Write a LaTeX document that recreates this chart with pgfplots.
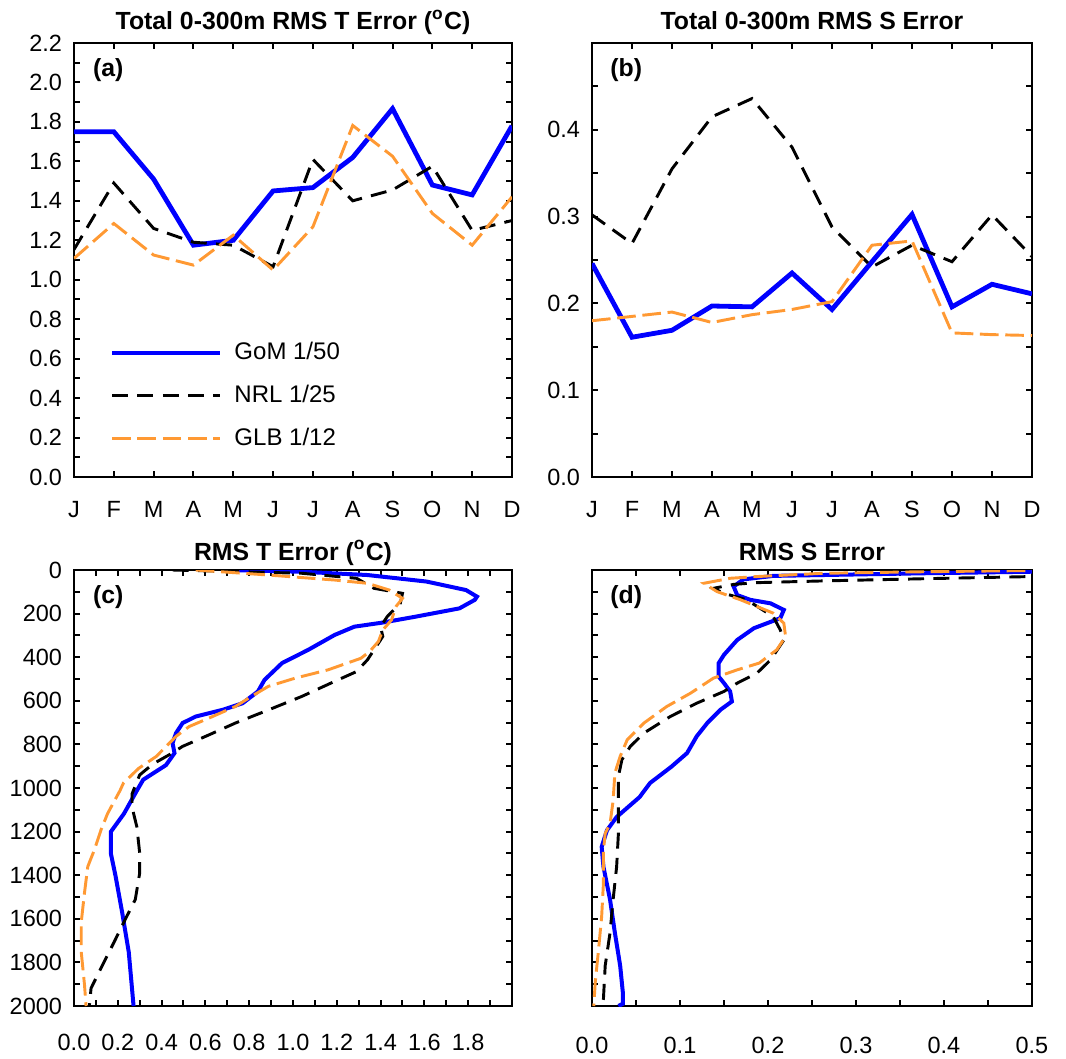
\documentclass[border=0pt]{standalone}
\usepackage{fontspec}
\setmainfont{Liberation Sans}
\usepackage{pgfplots}
\pgfplotsset{compat=1.18}
\definecolor{glborange}{RGB}{255,153,51}
\pgfplotsset{
  panel/.style={
    scale only axis, anchor=north west, clip=true,
    axis line style={line width=0.75pt},
    tick style={black, line width=0.75pt},
    tick align=inside, tick pos=both,
    major tick length=2.2pt, minor tick length=2.2pt,
    tick label style={font=\fontsize{8.8}{10}\selectfont},
    /pgf/number format/assume math mode=true,
    /pgf/number format/1000 sep={},
    scaled ticks=false,
    title style={font=\bfseries\fontsize{9.3}{11}\selectfont, at={(0.5,1)}, anchor=base},
    xticklabel style={yshift=-5.5pt},
    yticklabel style={xshift=-1pt},
  },
  gom/.style={blue, line width=1.8pt},
  nrl/.style={black, line width=1.1pt, dash pattern=on 6pt off 3.5pt},
  glb/.style={glborange, line width=1.1pt, dash pattern=on 7pt off 2.5pt},
  gomp/.style={blue, line width=1.5pt},
  onedec/.style={/pgf/number format/fixed, /pgf/number format/fixed zerofill, /pgf/number format/precision=1},
}
\newcommand{\lab}[1]{\node[font=\bfseries\fontsize{9.3}{11}\selectfont] at (rel axis cs:0.078,0.937) {(#1)};}
\begin{document}
\begin{tikzpicture}
\path[use as bounding box] (0,0) rectangle (399.75pt,-397.125pt);

% (a) monthly 0-300 m T error
\begin{axis}[panel, at={(27.75pt,-16.125pt)}, width=164.25pt, height=162.75pt,
  xmin=1, xmax=12, ymin=0, ymax=2.2,
  xtick={1,2,3,4,5,6,7,8,9,10,11,12}, xticklabels={J,F,M,A,M,J,J,A,S,O,N,D},
  ytick={0,0.2,0.4,0.6,0.8,1.0,1.2,1.4,1.6,1.8,2.0,2.2},
  minor ytick={0.1,0.3,0.5,0.7,0.9,1.1,1.3,1.5,1.7,1.9,2.1},
  yticklabel style={onedec},
  title={Total 0-300m RMS T Error (\textsuperscript{o}C)}, title style={yshift=-0.9pt},
  legend style={at={(0.062,0.336)}, anchor=north west, draw=none, fill=none,
    font=\fontsize{9}{10}\selectfont, row sep=4pt},
  legend cell align=left,
  legend image code/.code={\draw[#1] (0pt,0pt) -- (40.5pt,0pt); \path (43pt,0pt);},
]
\addplot[gom] coordinates {(1,1.75) (2,1.75) (3,1.51) (4,1.175) (5,1.2) (6,1.45) (7,1.467) (8,1.62) (9,1.867) (10,1.48) (11,1.43) (12,1.78)};
\addlegendentry{GoM 1/50}
\addplot[nrl] coordinates {(1,1.153) (2,1.49) (3,1.26) (4,1.19) (5,1.175) (6,1.066) (7,1.61) (8,1.40) (9,1.455) (10,1.575) (11,1.25) (12,1.30)};
\addlegendentry{NRL 1/25}
\addplot[glb] coordinates {(1,1.108) (2,1.285) (3,1.125) (4,1.074) (5,1.226) (6,1.049) (7,1.268) (8,1.782) (9,1.626) (10,1.336) (11,1.175) (12,1.42)};
\addlegendentry{GLB 1/12}
\lab{a}
\end{axis}

% (b) monthly 0-300 m S error
\begin{axis}[panel, at={(222pt,-16.125pt)}, width=165pt, height=162.75pt,
  xmin=1, xmax=12, ymin=0, ymax=0.5,
  xtick={1,2,3,4,5,6,7,8,9,10,11,12}, xticklabels={J,F,M,A,M,J,J,A,S,O,N,D},
  ytick={0,0.1,0.2,0.3,0.4}, minor ytick={0.05,0.15,0.25,0.35,0.45},
  yticklabel style={onedec},
  title={Total 0-300m RMS S Error}, title style={yshift=-0.9pt},
]
\addplot[gom] coordinates {(1,0.246) (2,0.161) (3,0.169) (4,0.197) (5,0.196) (6,0.235) (7,0.193) (8,0.248) (9,0.3025) (10,0.196) (11,0.222) (12,0.211)};
\addplot[nrl] coordinates {(1,0.302) (2,0.269) (3,0.355) (4,0.415) (5,0.436) (6,0.38) (7,0.288) (8,0.242) (9,0.267) (10,0.248) (11,0.302) (12,0.254)};
\addplot[glb] coordinates {(1,0.180) (2,0.185) (3,0.19) (4,0.178) (5,0.187) (6,0.193) (7,0.202) (8,0.267) (9,0.272) (10,0.166) (11,0.164) (12,0.163)};
\lab{b}
\end{axis}

% (c) T error profile
\begin{axis}[panel, at={(27.75pt,-213.75pt)}, width=164.25pt, height=163.5pt,
  xmin=0, xmax=2, ymin=0, ymax=2000, y dir=reverse,
  xtick={0,0.2,0.4,0.6,0.8,1.0,1.2,1.4,1.6,1.8},
  minor xtick={0.1,0.3,0.5,0.7,0.9,1.1,1.3,1.5,1.7,1.9},
  ytick={0,200,400,600,800,1000,1200,1400,1600,1800,2000},
  minor ytick={100,300,500,700,900,1100,1300,1500,1700,1900},
  xticklabel style={onedec, yshift=-1.5pt},
  title={RMS T Error (\textsuperscript{o}C)}, title style={yshift=-2.25pt},
]
\addplot[gomp] table {
0.707 0
1.04 8
1.34 23
1.61 53
1.79 92
1.84 122
1.83 137
1.76 176
1.56 214
1.41 241
1.28 260
1.19 298
1.07 366
0.95 427
0.87 504
0.84 557
0.77 611
0.68 641
0.556 672
0.496 702
0.466 748
0.45 794
0.459 840
0.42 895
0.316 962
0.287 1012
0.228 1118
0.168 1201
0.168 1299
0.19 1405
0.22 1571
0.25 1752
0.272 2000
};
\addplot[nrl] table {
0.45 0
1.04 15
1.29 38
1.37 84
1.50 107
1.49 153
1.43 214
1.40 260
1.41 305
1.38 351
1.34 412
1.29 466
1.19 511
1.04 580
0.89 641
0.737 702
0.617 756
0.496 809
0.436 847
0.36 890
0.30 940
0.265 1027
0.265 1088
0.287 1178
0.30 1299
0.30 1390
0.28 1511
0.235 1601
0.183 1707
0.13 1813
0.078 1918
0.07 2000
};
\addplot[glb] table {
0.556 0
0.887 23
1.19 46
1.34 61
1.44 92
1.50 130
1.47 168
1.45 229
1.41 275
1.39 328
1.35 374
1.31 405
1.16 458
1.01 496
0.887 534
0.81 580
0.737 626
0.617 679
0.526 718
0.466 763
0.376 855
0.295 910
0.226 977
0.21 1012
0.153 1118
0.123 1193
0.093 1284
0.063 1360
0.048 1480
0.033 1616
0.033 1752
0.048 1903
0.055 2000
};
\lab{c}
\end{axis}

% (d) S error profile
\begin{axis}[panel, at={(222pt,-213.75pt)}, width=165pt, height=163.5pt,
  xmin=0, xmax=0.5, ymin=0, ymax=2000, y dir=reverse,
  xtick={0,0.1,0.2,0.3,0.4,0.5}, minor xtick={0.05,0.15,0.25,0.35,0.45},
  ytick={0,200,400,600,800,1000,1200,1400,1600,1800,2000},
  minor ytick={100,300,500,700,900,1100,1300,1500,1700,1900},
  yticklabels={},
  xticklabel style={onedec, yshift=-2.5pt},
  title={RMS S Error}, title style={yshift=-2.25pt},
]
\addplot[gomp] table {
0.55 5
0.498 8
0.377 15
0.263 23
0.206 27
0.172 43
0.161 76
0.165 115
0.18 137
0.203 153
0.218 183
0.214 221
0.199 244
0.184 267
0.165 321
0.15 389
0.144 427
0.144 489
0.15 519
0.157 557
0.159 603
0.146 641
0.131 702
0.119 763
0.108 840
0.09 903
0.066 977
0.054 1042
0.028 1133
0.017 1194
0.011 1270
0.013 1361
0.0205 1512
0.026 1664
0.032 1815
0.035 1936
0.035 1990
0.030 2000
};
\addplot[nrl] table {
0.55 26
0.377 40
0.263 50
0.1875 58
0.161 66
0.138 84
0.15 107
0.176 137
0.206 214
0.214 275
0.218 321
0.203 412
0.1875 473
0.165 519
0.15 557
0.119 611
0.089 672
0.059 748
0.0436 809
0.034 870
0.030 947
0.03 1058
0.03 1209
0.028 1361
0.024 1512
0.0205 1664
0.015 1815
0.013 1967
0.011 2000
};
\addplot[glb] table {
0.55 0
0.377 8
0.263 15
0.1875 30
0.157 38
0.127 61
0.142 99
0.169 137
0.206 198
0.218 244
0.22 305
0.21 366
0.19 427
0.165 458
0.138 496
0.112 565
0.085 626
0.059 702
0.04 779
0.032 855
0.026 931
0.024 1058
0.0205 1164
0.015 1209
0.013 1285
0.013 1436
0.011 1588
0.0075 1739
0.0037 1891
0.002 2000
};
\lab{d}
\end{axis}
\end{tikzpicture}
\end{document}
